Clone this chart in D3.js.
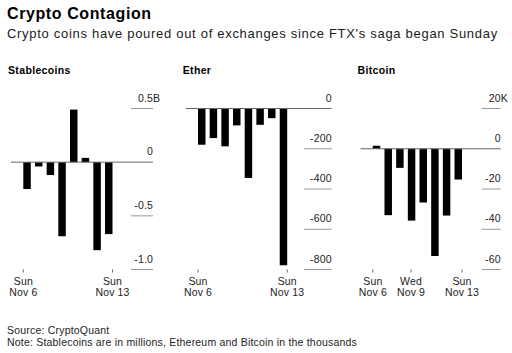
<!DOCTYPE html>
<html>
<head>
<meta charset="utf-8">
<script src="https://cdn.jsdelivr.net/npm/d3@7"></script>
<style>
  body { margin: 0; background: #fff; }
  svg { display: block; font-family: "Liberation Sans", Arial, sans-serif; }
  .title { font-size: 16px; font-weight: bold; fill: #000; letter-spacing: 0.6px; }
  .subtitle { font-size: 13px; fill: #1a1a1a; letter-spacing: 0.7px; }
  .ptitle { font-size: 10.5px; font-weight: bold; fill: #000; letter-spacing: 0.35px; }
  .lab { font-size: 10.5px; fill: #222; letter-spacing: 0.15px; }
  .foot { font-size: 10.5px; fill: #222; letter-spacing: 0.2px; }
</style>
</head>
<body>
<svg id="chart" width="512" height="353"></svg>
<script>
"use strict"

// values
const days = ["2022-11-06", "2022-11-07", "2022-11-08", "2022-11-09",
              "2022-11-10", "2022-11-11", "2022-11-12", "2022-11-13"]

const stablecoins = [-0.25, -0.04, -0.12, -0.69, 0.49, 0.04, -0.82, -0.67]
const ether       = [-180, -147, -188, -84, -345, -81, -48, -779]
const bitcoin     = [1.5, -33, -9.5, -35.7, -26.7, -53.3, -33.2, -15.3]

const stableTicks  = [0.5, 0, -0.5, -1.0]
const etherTicks   = [0, -200, -400, -600, -800]
const bitcoinTicks = [20, 0, -20, -40, -60]

const stableTickLabels  = ["0.5", "0", "-0.5", "-1.0"]
const etherTickLabels   = ["0", "-200", "-400", "-600", "-800"]
const bitcoinTickLabels = ["20", "0", "-20", "-40", "-60"]

const shortDates = ["2022-11-06", "2022-11-13"]
const bitcoinDates = ["2022-11-06", "2022-11-09", "2022-11-13"]

const parse = d3.timeParse("%Y-%m-%d")

const panels = [
    { name: "Stablecoins", values: stablecoins, ticks: stableTicks, labels: stableTickLabels,
      suffix: "B", dates: shortDates, left: 8, right: 153, seg: 22 },
    { name: "Ether", values: ether, ticks: etherTicks, labels: etherTickLabels,
      suffix: "", dates: shortDates, left: 182.7, right: 331.7, seg: 28 },
    { name: "Bitcoin", values: bitcoin, ticks: bitcoinTicks, labels: bitcoinTickLabels,
      suffix: "K", dates: bitcoinDates, left: 357.5, right: 500.7, seg: 19 },
]

const svg = d3.select("#chart")

svg.append("text").attr("class", "title").attr("x", 7).attr("y", 18.5).text("Crypto Contagion")
svg.append("text").attr("class", "subtitle").attr("x", 7).attr("y", 37.5)
   .text("Crypto coins have poured out of exchanges since FTX's saga began Sunday")

const plotTop = 108.5, plotBottom = 269.5

panels.forEach(p => {
    const g = svg.append("g")

    g.append("text").attr("class", "ptitle").attr("x", p.left).attr("y", 73.5).text(p.name)

    const y = d3.scaleLinear()
                .domain([d3.max(p.ticks), d3.min(p.ticks)])
                .range([plotTop, plotBottom])

    const x = d3.scaleBand()
                .domain(days)
                .range([p.left + 15.3, p.left + 104.5])
                .paddingInner(0.36)
                .paddingOuter(0)

    const t = d3.scaleTime()
                .domain([parse(days[0]), parse(days[days.length - 1])])
                .range(x.range())

    // gridline stubs under the labels
    g.selectAll("line.grid").data(p.ticks.filter(v => v != 0)).enter().append("line")
     .attr("x1", p.right - p.seg).attr("x2", p.right)
     .attr("y1", d => y(d)).attr("y2", d => y(d))
     .attr("stroke", "#999").attr("stroke-width", 1)

    g.selectAll("text.num").data(p.ticks).enter().append("text")
     .attr("class", "lab").attr("text-anchor", "end")
     .attr("x", p.right).attr("y", d => y(d) - 7)
     .text((d, i) => p.labels[i])

    if (p.suffix)
        g.append("text").attr("class", "lab")
         .attr("x", p.right).attr("y", y(d3.max(p.ticks)) - 7).text(p.suffix)

    // bars
    g.selectAll("rect").data(p.values).enter().append("rect")
     .attr("x", (d, i) => x(days[i]))
     .attr("width", x.bandwidth())
     .attr("y", d => y(Math.max(0, d)))
     .attr("height", d => Math.abs(y(d) - y(0)))
     .attr("fill", "#000")

    // zero line
    g.append("line")
     .attr("x1", p.left + 3).attr("x2", p.right)
     .attr("y1", y(0)).attr("y2", y(0))
     .attr("stroke", "#666").attr("stroke-width", 1)

    // date ticks
    const dt = g.selectAll("g.date").data(p.dates).enter().append("g")
                .attr("transform", d => `translate(${t(parse(d))},0)`)
    dt.append("line").attr("y1", plotBottom).attr("y2", plotBottom + 3).attr("stroke", "#666")
    dt.append("text").attr("class", "lab").attr("text-anchor", "middle").attr("y", 285)
      .text(d => d3.timeFormat("%a")(parse(d)))
    dt.append("text").attr("class", "lab").attr("text-anchor", "middle").attr("y", 295.5)
      .text(d => d3.timeFormat("%b %-d")(parse(d)))
})

svg.append("text").attr("class", "foot").attr("x", 7).attr("y", 334).text("Source: CryptoQuant")
svg.append("text").attr("class", "foot").attr("x", 7).attr("y", 345.5)
   .text("Note: Stablecoins are in millions, Ethereum and Bitcoin in the thousands")
</script>
</body>
</html>
